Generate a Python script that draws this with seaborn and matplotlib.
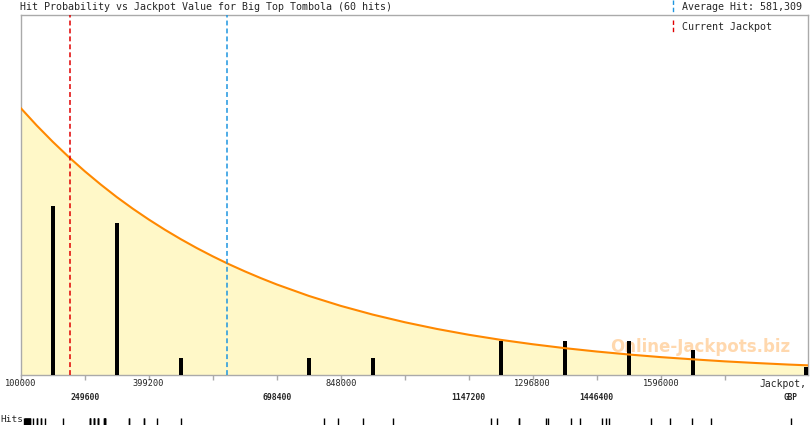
import numpy as np
import matplotlib
matplotlib.use('Agg')
import matplotlib.pyplot as plt
from matplotlib.lines import Line2D
import seaborn as sns

# individual hit values (GBP)
hit_values = [
    107700, 110000, 110000, 112400, 112400, 114700, 114700, 117100, 117100,
    119400, 119400, 121700, 121700, 128800, 138100, 138100, 147500, 147500,
    156800, 198900,
    262000, 262000, 262000, 271300, 271300, 271300, 280700, 280700, 280700,
    294700, 294700, 297100, 297100, 297100, 353200, 353200, 388200, 388200,
    418600, 474700,
    809000, 841700,
    900100, 970300,
    1199300, 1213400, 1264800, 1264800,
    1327900, 1332600, 1386300, 1407400,
    1458800, 1468100, 1475200, 1573300,
    1617700, 1669200, 1713600,
    1900000,
]

# probability curve (in "hits per bin" units)
curve_x = [100000, 137400, 174800, 212200, 249600, 287000, 324400, 361800,
           399200, 436600, 474000, 511400, 548800, 586200, 623600, 661000,
           698400, 773200, 848000, 922800, 997600, 1072400, 1147200, 1222000,
           1296800, 1371600, 1446400, 1521200, 1596000, 1670800, 1745600,
           1820400, 1895200, 1940000]
curve_y = [31.52, 29.46, 27.54, 25.74, 24.06, 22.49, 21.01, 19.64, 18.36,
           17.16, 16.04, 14.99, 14.01, 13.09, 12.24, 11.44, 10.69,
           9.34, 8.16, 7.13, 6.23, 5.44, 4.75, 4.15, 3.63, 3.17, 2.77, 2.42,
           2.11, 1.85, 1.61, 1.41, 1.23, 1.14]

tick_values = [100000, 249600, 399200, 548800, 698400, 848000, 997600,
               1147200, 1296800, 1446400, 1596000, 1745600]
tick_labels = ['100000', '249600', '399200', '', '698400', '848000', '',
               '1147200', '1296800', '1446400', '1596000', '']
tick_rows = [0, 1, 0, 0, 1, 0, 0, 1, 0, 1, 0, 0]

average_hit = 581309
current_jackpot = 215000
bin_width = 149600
x_min, x_max = 100000, 1940000

W, H = 810, 425
sns.set_theme(style="white")
plt.rcParams['font.family'] = ['DejaVu Sans Mono', 'DejaVu Sans']

fig = plt.figure(figsize=(W / 100, H / 100), dpi=100)
ax_l, ax_r, ax_t, ax_b = 20.7, 808, 15, 375
ax = fig.add_axes([ax_l / W, 1 - ax_b / H, (ax_r - ax_l) / W, (ax_b - ax_t) / H])

# curve + fill
ax.fill_between(curve_x, curve_y, 0, color='#FFF8C8', lw=0, zorder=1)
sns.lineplot(x=curve_x, y=curve_y, ax=ax, color='#FF8800', lw=1.5, zorder=4)

# watermark
ax.text(0.863, 0.078, 'Online-Jackpots.biz', transform=ax.transAxes,
        ha='center', va='center', fontsize=12, fontweight='bold',
        family='DejaVu Sans', color='#FFD8AE', zorder=2)

# hit histogram as thin bars
edges = x_min + bin_width * np.arange(14)
counts, _ = np.histogram(hit_values, bins=edges)
centers = edges[:-1] + bin_width / 2
bar_w = 9400
centers = np.minimum(centers, x_max - bar_w / 2)
keep = counts > 0
ax.bar(centers[keep], counts[keep], width=bar_w, color='black', lw=0, zorder=3)

# reference lines
ax.axvline(current_jackpot, color='#E00000', lw=1.1, dashes=(3.2, 2.0), zorder=5)
ax.axvline(average_hit, color='#1E96E0', lw=1.1, dashes=(3.2, 2.0), zorder=5)

ax.set_xlim(x_min, x_max)
ax.set_ylim(0, 42.5)
ax.set_yticks([])
ax.set_xticks(tick_values)
ax.set_xticklabels([])
ax.tick_params(axis='x', direction='out', length=3.6, width=1, color='#AAAAAA',
               bottom=True)
for s in ax.spines.values():
    s.set_color('#AAAAAA')
    s.set_linewidth(1.0)
ax.set_xlabel('')
ax.set_ylabel('')

for v, lab, row in zip(tick_values, tick_labels, tick_rows):
    if lab:
        ax.annotate(lab, xy=(v, 0), xycoords=('data', 'axes fraction'),
                    xytext=(0, -9 - 13 * row), textcoords='offset pixels',
                    ha='center', va='center', fontsize=6.2 if row == 0 else 5.9,
                    fontweight='normal' if row == 0 else 'bold',
                    annotation_clip=False)


def fx(px):
    return px / W


def fy(py):
    return 1 - py / H


fig.text(fx(783), fy(384), 'Jackpot,', ha='center', va='center', fontsize=7.0)
fig.text(fx(790), fy(397), 'GBP', ha='center', va='center', fontsize=5.6,
         fontweight='bold')

# title
fig.text(fx(20), fy(7), 'Hit Probability vs Jackpot Value for Big Top Tombola (60 hits)',
         ha='left', va='center', fontsize=7.2)

# legend
fig.add_artist(Line2D([fx(673), fx(673)], [fy(0), fy(12)], color='#1E96E0',
                      lw=1.0, dashes=(3.2, 2.0)))
fig.text(fx(682), fy(7), f'Average Hit: {average_hit:,}', ha='left', va='center',
         fontsize=7.2)
fig.add_artist(Line2D([fx(673), fx(673)], [fy(20), fy(32)], color='#E00000',
                      lw=1.0, dashes=(3.2, 2.0)))
fig.text(fx(682), fy(27), 'Current Jackpot', ha='left', va='center', fontsize=7.2)

# rug of individual hits
rax = fig.add_axes([ax_l / W, 0, (ax_r - ax_l) / W, 7 / H])
sns.rugplot(x=hit_values, ax=rax, height=1, color='black', lw=1)
rax.set_xlim(x_min, x_max)
rax.set_ylim(0, 1)
rax.axis('off')
fig.text(0, fy(420), 'Hits', ha='left', va='center', fontsize=6.8)

fig.savefig('out.png', dpi=100)
